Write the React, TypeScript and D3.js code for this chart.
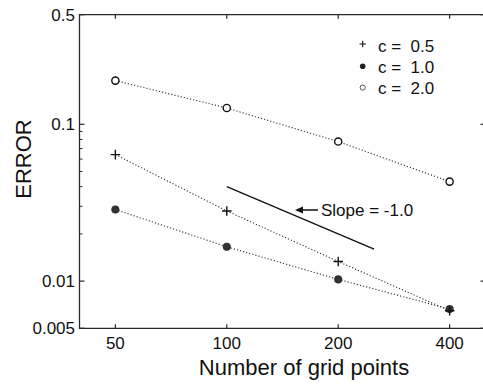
import React from "react";
import * as d3 from "d3";

const gridPoints = [50, 100, 200, 400];
const errC05 = [0.0641, 0.028, 0.01334, 0.00647];
const errC10 = [0.0286, 0.01655, 0.01025, 0.00663];
const errC20 = [0.19, 0.127, 0.0776, 0.0431];
const yMajorTicks = [0.5, 0.1, 0.01, 0.005];
const yTickLabels = ["0.5", "0.1", "0.01", "0.005"];
const yMinorTicks = [0.02, 0.03, 0.04, 0.05, 0.06, 0.07, 0.08, 0.09];
const legendLabels = ["c =  0.5", "c =  1.0", "c =  2.0"];
const slopeLine = [
  [100, 0.04],
  [250, 0.016],
];

const W = 483;
const H = 385;
const left = 79.5;
const right = 485.5;
const top = 14.7;
const bottom = 328.3;
const FONT = "'Liberation Sans', Arial, sans-serif";
const AX = "#2a2a2a";

export default function App() {
  const x = d3.scaleLog().domain([40, 500]).range([left, right]);
  const y = d3.scaleLog().domain([0.005, 0.5]).range([bottom, top]);
  const line = d3
    .line<[number, number]>()
    .x((d) => x(d[0]))
    .y((d) => y(d[1]));

  const series = [errC05, errC10, errC20].map((vals) =>
    gridPoints.map((g, i) => [g, vals[i]] as [number, number])
  );

  const plus = (cx: number, cy: number, s: number, sw: number, key?: any) => (
    <path
      key={key}
      d={`M${cx - s},${cy}H${cx + s}M${cx},${cy - s}V${cy + s}`}
      stroke="#111"
      strokeWidth={sw}
      fill="none"
    />
  );

  return (
    <svg
      width={W}
      height={H}
      style={{ position: "absolute", left: 0, top: 0, background: "#fff" }}
      fontFamily={FONT}
    >
      <rect x={0} y={0} width={W} height={H} fill="#fff" />
      {/* frame */}
      <path
        d={`M${right},${top}H${left}V${bottom}H${right}`}
        stroke={AX}
        strokeWidth={1.3}
        fill="none"
      />
      <line x1={right} x2={right} y1={top} y2={bottom} stroke={AX} strokeWidth={1.3} />
      {/* x ticks */}
      {gridPoints.map((g) => (
        <g key={"xt" + g}>
          <line x1={x(g)} x2={x(g)} y1={bottom} y2={bottom - 4} stroke={AX} strokeWidth={1.2} />
          <line x1={x(g)} x2={x(g)} y1={top} y2={top + 4} stroke={AX} strokeWidth={1.2} />
          <text x={x(g)} y={348.5} fontSize={17} textAnchor="middle" fill="#111">
            {g}
          </text>
        </g>
      ))}
      {/* y ticks */}
      {yMajorTicks.map((v, i) => (
        <g key={"yt" + v}>
          <line x1={left} x2={left + 5} y1={y(v)} y2={y(v)} stroke={AX} strokeWidth={1.2} />
          <line x1={right} x2={right - 5} y1={y(v)} y2={y(v)} stroke={AX} strokeWidth={1.2} />
          <text
            x={75}
            y={y(v)}
            dy="0.36em"
            fontSize={17}
            textAnchor="end"
            fill="#111"
          >
            {yTickLabels[i]}
          </text>
        </g>
      ))}
      {yMinorTicks.map((v) => (
        <line
          key={"ym" + v}
          x1={left}
          x2={left + 3}
          y1={y(v)}
          y2={y(v)}
          stroke={AX}
          strokeWidth={1}
        />
      ))}
      {/* axis titles */}
      <text x={304} y={374.5} fontSize={22} textAnchor="middle" fill="#111">
        Number of grid points
      </text>
      <text
        transform={`translate(30.5,159) rotate(-90)`}
        fontSize={22}
        textAnchor="middle"
        fill="#111"
      >
        ERROR
      </text>
      {/* dotted lines */}
      {series.map((s, i) => (
        <path
          key={"l" + i}
          d={line(s) || ""}
          stroke="#333"
          strokeWidth={1.1}
          strokeDasharray="1.2,2"
          fill="none"
        />
      ))}
      {/* markers */}
      {series[2].map((d, i) => (
        <circle
          key={"o" + i}
          cx={x(d[0])}
          cy={y(d[1])}
          r={3.6}
          fill="#fff"
          stroke="#111"
          strokeWidth={1.4}
        />
      ))}
      {series[1].map((d, i) => (
        <circle
          key={"f" + i}
          cx={x(d[0])}
          cy={y(d[1])}
          r={3.8}
          fill="#333"
          stroke="#222"
          strokeWidth={0.6}
        />
      ))}
      {series[0].map((d, i) => plus(x(d[0]), y(d[1]), 4.8, 1.4, "p" + i))}
      {/* slope annotation */}
      <path
        d={line(slopeLine as [number, number][]) || ""}
        stroke="#111"
        strokeWidth={1.3}
        fill="none"
      />
      <line x1={318} x2={300} y1={210} y2={210} stroke="#111" strokeWidth={1.5} />
      <path d="M295,210L303,206.5L303,213.5Z" fill="#111" />
      <text x={321} y={216} fontSize={17} fill="#111">
        Slope = -1.0
      </text>
      {/* legend */}
      {legendLabels.map((lab, i) => {
        const ly = 45 + i * 21.3;
        return (
          <g key={"lg" + i}>
            {i === 0 && plus(362.7, ly - 1, 3.2, 1.1)}
            {i === 1 && <circle cx={362.7} cy={ly} r={2.8} fill="#222" />}
            {i === 2 && (
              <circle cx={362.7} cy={ly} r={2.6} fill="#fff" stroke="#444" strokeWidth={0.9} />
            )}
            <text
              x={378}
              y={ly + 6.5}
              fontSize={17}
              fill="#111"
              style={{ whiteSpace: "pre" }}
              xmlSpace="preserve"
            >
              {lab}
            </text>
          </g>
        );
      })}
    </svg>
  );
}
